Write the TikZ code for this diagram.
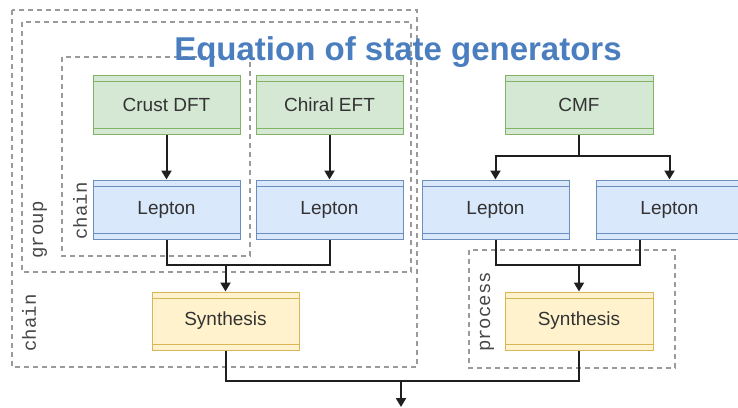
\documentclass[tikz,border=0pt]{standalone}
\usepackage{fontspec}
\setmainfont{Liberation Sans}
\setmonofont{Liberation Mono}
\usetikzlibrary{arrows.meta}
\definecolor{gfill}{HTML}{D5E8D4}\definecolor{gline}{HTML}{82B366}
\definecolor{bfill}{HTML}{DAE8FC}\definecolor{bline}{HTML}{6C8EBF}
\definecolor{yfill}{HTML}{FFF2CC}\definecolor{yline}{HTML}{D6B656}
\definecolor{dashgray}{HTML}{9A9A9A}
\definecolor{titleblue}{HTML}{4A7EBF}
\definecolor{txt}{HTML}{333333}
\tikzset{
  box/.style={draw=#1line, fill=#1fill, line width=1pt, minimum width=147pt, minimum height=59pt,
    inner sep=0pt, text=txt, font=\fontsize{19}{20}\selectfont,
    path picture={
      \draw[#1line, line width=0.9pt] ([yshift=-6pt]path picture bounding box.north west) -- ([yshift=-6pt]path picture bounding box.north east);
      \draw[#1line, line width=0.9pt] ([yshift=6pt]path picture bounding box.south west) -- ([yshift=6pt]path picture bounding box.south east);
    }},
  grp/.style={draw=dashgray, line width=1.4pt, dash pattern=on 5pt off 4pt},
  lbl/.style={rotate=90, font=\ttfamily\fontsize{19}{20}\selectfont, text=txt!90!white, inner sep=0pt},
  conn/.style={draw=black!88, line width=2pt},
  arr/.style={conn, -{Triangle[length=9pt,width=10pt]}}
}
\begin{document}
\begin{tikzpicture}[x=1pt,y=-1pt]
\useasboundingbox (0,0) rectangle (738,407);
% dashed groups
\draw[grp] (12,10) rectangle (417,367);
\draw[grp] (22,22) rectangle (411,272);
\draw[grp] (62,57) rectangle (250,256);
\draw[grp] (469,250) rectangle (675,368);
\node[lbl] (lgroup) at (40,230) {group};
\node[lbl] (lchainin) at (80,211) {chain};
\node[lbl] (lchainout) at (29,323) {chain};
\node[lbl] (lprocess) at (487,312) {process};
% title
\node[anchor=base, font=\bfseries\fontsize{33}{36}\selectfont, text=titleblue, inner sep=0pt] (title) at (398,60) {Equation of state generators};
% nodes
\node[box=g] (crust) at (166.5,104.5) {Crust DFT};
\node[box=g] (chiral) at (329.5,104.5) {Chiral EFT};
\node[box=g, minimum width=148pt] (cmf) at (579,104.5) {CMF};
\node[box=b] (lep1) at (166.5,209.5) {Lepton};
\node[box=b] (lep2) at (329.5,209.5) {Lepton};
\node[box=b] (lep3) at (495.5,209.5) {Lepton};
\node[box=b] (lep4) at (669.5,209.5) {Lepton};
\node[box=y, minimum height=58pt] (syn1) at (225.5,321) {Synthesis};
\node[box=y, minimum height=58pt, minimum width=148pt] (syn2) at (579,321) {Synthesis};
% connectors
\coordinate (j1) at (579,156);
\coordinate (j2) at (225.5,265);
\coordinate (j3) at (579,265);
\coordinate (j4) at (401,381);
\coordinate (out) at (401,407);
\coordinate (lep4out) at ([xshift=-29.5pt]lep4.south);
\draw[arr] (crust) -- (lep1);
\draw[arr] (chiral) -- (lep2);
\draw[conn] (cmf) -- (j1);
\draw[arr] (j1) -| (lep3);
\draw[arr] (j1) -| (lep4);
\draw[conn] (lep1) |- (j2);
\draw[conn] (lep2) |- (j2);
\draw[arr] (j2) -- (syn1);
\draw[conn] (lep3) |- (j3);
\draw[conn] (lep4out) |- (j3);
\draw[arr] (j3) -- (syn2);
\draw[conn] (syn1) |- (j4);
\draw[conn] (syn2) |- (j4);
\draw[arr] (j4) -- (out);
\end{tikzpicture}
\end{document}
